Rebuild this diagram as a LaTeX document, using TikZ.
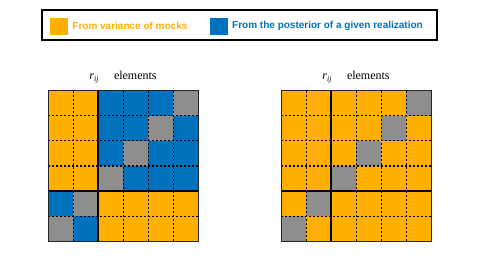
\documentclass[tikz,border=0pt]{standalone}
\usepackage{fontspec}
\setmainfont{Liberation Serif}
\setsansfont{Liberation Sans}
\usetikzlibrary{positioning}
\definecolor{mockorange}{RGB}{255,175,0}
\definecolor{postblue}{RGB}{0,114,189}
\definecolor{diaggray}{RGB}{142,142,142}
\tikzset{
  celdaO/.style={fill=mockorange},
  celdaB/.style={fill=postblue},
  celdaG/.style={fill=diaggray},
  rejilla/.style={line width=1pt, dash pattern=on 2.2pt off 1.8pt},
  bloque/.style={line width=1.9pt},
  borde/.style={line width=1pt, draw=black!85},
  etiq/.style={font=\fontsize{12}{14}\selectfont, inner sep=0pt},
  cuadro/.style={rectangle, minimum width=18pt, minimum height=17pt, inner sep=0pt},
  textoley/.style={font=\sffamily\bfseries\fontsize{10}{12}\selectfont, inner sep=0pt},
  leyenda/.style={rectangle, draw, line width=1.4pt, minimum width=395pt,
    minimum height=30pt, inner sep=0pt}
}

\begin{document}
\begin{tikzpicture}[x=1pt, y=-1pt]
\useasboundingbox (0,0) rectangle (480,270);

% legend
\node[leyenda] (leyenda) at (239.5,25) {};
\node[cuadro, fill=mockorange] (cuadroO) at (58.5,26.3) {};
\node[textoley, text=mockorange, right=4.5pt of cuadroO] (textoO) {From variance of mocks};
\node[cuadro, fill=postblue] (cuadroB) at (218.8,26.3) {};
\node[textoley, text=postblue, right=4pt of cuadroB] (textoB) {From the posterior of a given realization};

% left matrix
\begin{scope}[shift={(48,91)}]
  \foreach \fila [count=\r] in {{O,O,B,B,B,G},{O,O,B,B,G,B},{O,O,B,G,B,B},
                                {O,O,G,B,B,B},{B,G,O,O,O,O},{G,B,O,O,O,O}}
    \foreach \tipo [count=\c] in \fila
      \fill[celda\tipo] ({(\c-1)*25},{(\r-1)*25}) rectangle ++(25,25);
  \foreach \k in {1,...,5} {
    \draw[rejilla] (\k*25,0) -- (\k*25,150);
    \draw[rejilla] (0,\k*25) -- (150,\k*25);
  }
  \draw[bloque] (50,0) -- (50,150);
  \draw[bloque] (0,100) -- (150,100);
  \draw[borde] (0,0) rectangle (150,150);
  \node[etiq] (etiqI) at (75,-14) {\textit{r}\textsubscript{\textit{ij}}\quad{} elements};
\end{scope}

% right matrix
\begin{scope}[shift={(281,91)}]
  \foreach \fila [count=\r] in {{O,O,O,O,O,G},{O,O,O,O,G,O},{O,O,O,G,O,O},
                                {O,O,G,O,O,O},{O,G,O,O,O,O},{G,O,O,O,O,O}}
    \foreach \tipo [count=\c] in \fila
      \fill[celda\tipo] ({(\c-1)*25},{(\r-1)*25}) rectangle ++(25,25);
  \foreach \k in {1,...,5} {
    \draw[rejilla] (\k*25,0) -- (\k*25,150);
    \draw[rejilla] (0,\k*25) -- (150,\k*25);
  }
  \draw[bloque] (50,0) -- (50,150);
  \draw[bloque] (0,100) -- (150,100);
  \draw[borde] (0,0) rectangle (150,150);
  \node[etiq] (etiqD) at (75,-14) {\textit{r}\textsubscript{\textit{ij}}\quad{} elements};
\end{scope}

\end{tikzpicture}
\end{document}
